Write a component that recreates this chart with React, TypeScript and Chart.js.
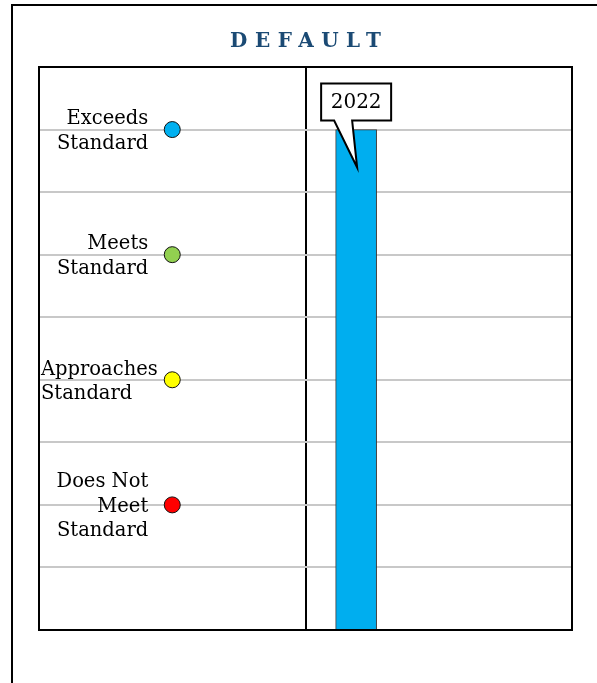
import React, { useEffect, useRef } from "react";
import { Chart, registerables } from "chart.js";

Chart.register(...registerables);

// Performance levels shown as markers in the left panel
const levelLabels: string[][] = [
  ["Exceeds", "Standard"],
  ["Meets", "Standard"],
  ["Approaches", "Standard"],
  ["Does Not", "Meet", "Standard"],
];
const levelValues = [8, 6, 4, 2];
const levelColors = ["#00b0f0", "#92d050", "#ffff00", "#ff0000"];
const levelX = 1;

// Score bars in the right panel
const years = ["2022"];
const yearScores = [8];
const yearX = [2.38];
const barColor = "#00aeef";

const yMin = 0;
const yMax = 9;
const xMin = 0;
const xMax = 4;
const panelDivider = 2;

const FONT = "'DejaVu Serif', serif";

const framePlugin = {
  id: "frame",
  afterDraw(chart: any) {
    const { ctx, chartArea } = chart;
    ctx.save();
    ctx.strokeStyle = "#000";
    ctx.lineWidth = 2;
    ctx.strokeRect(
      chartArea.left,
      chartArea.top,
      chartArea.right - chartArea.left,
      chartArea.bottom - chartArea.top
    );
    ctx.restore();
  },
};

const levelLabelPlugin = {
  id: "levelLabels",
  afterDatasetsDraw(chart: any) {
    const { ctx, chartArea } = chart;
    const meta = chart.getDatasetMeta(1);
    ctx.save();
    ctx.font = `19.5px ${FONT}`;
    ctx.fillStyle = "#000";
    ctx.textBaseline = "middle";
    const lineH = 24.5;
    meta.data.forEach((pt: any, i: number) => {
      const lines = levelLabels[i];
      const rightEdge = pt.x - 24;
      const widest = Math.max(...lines.map((l) => ctx.measureText(l).width));
      let x = rightEdge;
      let align: CanvasTextAlign = "right";
      if (rightEdge - widest < chartArea.left + 2) {
        x = chartArea.left + 2;
        align = "left";
      }
      ctx.textAlign = align;
      const startY = pt.y - ((lines.length - 1) * lineH) / 2 + 2;
      lines.forEach((l, j) => ctx.fillText(l, x, startY + j * lineH));
    });
    ctx.restore();
  },
};

const calloutPlugin = {
  id: "callout",
  afterDatasetsDraw(chart: any) {
    const { ctx } = chart;
    const meta = chart.getDatasetMeta(0);
    ctx.save();
    meta.data.forEach((bar: any, i: number) => {
      const cx = bar.x;
      const w = 70;
      const h = 37;
      const bottom = bar.y - 9;
      const top = bottom - h;
      const left = cx - w / 2;
      const right = cx + w / 2;
      ctx.beginPath();
      ctx.moveTo(left, top);
      ctx.lineTo(right, top);
      ctx.lineTo(right, bottom);
      ctx.lineTo(cx - 4, bottom);
      ctx.lineTo(cx + 1, bar.y + 38);
      ctx.lineTo(cx - 22, bottom);
      ctx.lineTo(left, bottom);
      ctx.closePath();
      ctx.fillStyle = "#fff";
      ctx.fill();
      ctx.strokeStyle = "#000";
      ctx.lineWidth = 2;
      ctx.lineJoin = "miter";
      ctx.stroke();
      ctx.font = `20px ${FONT}`;
      ctx.fillStyle = "#000";
      ctx.textAlign = "center";
      ctx.textBaseline = "middle";
      ctx.fillText(years[i], cx, (top + bottom) / 2 + 1);
    });
    ctx.restore();
  },
};

export default function App() {
  const canvasRef = useRef<HTMLCanvasElement>(null);

  useEffect(() => {
    if (!canvasRef.current) return;
    const chart = new Chart(canvasRef.current, {
      type: "bar",
      data: {
        datasets: [
          {
            type: "bar",
            label: "Score",
            data: yearScores.map((v, i) => ({ x: yearX[i], y: v })),
            backgroundColor: barColor,
            borderColor: "#3a3a3a",
            borderWidth: 1,
            barThickness: 41,
          } as any,
          {
            type: "scatter",
            label: "Levels",
            data: levelValues.map((v) => ({ x: levelX, y: v })),
            pointRadius: 8,
            pointHoverRadius: 8,
            pointBackgroundColor: levelColors,
            pointBorderColor: "#111",
            pointBorderWidth: 1,
          } as any,
        ],
      },
      options: {
        animation: false,
        responsive: false,
        events: [],
        layout: { padding: { left: 39, top: 67, right: 25, bottom: 53 } },
        plugins: {
          legend: { display: false },
          tooltip: { enabled: false },
          title: { display: false },
        },
        scales: {
          x: {
            type: "linear",
            min: xMin,
            max: xMax,
            offset: false,
            ticks: { display: false, stepSize: 1 },
            grid: {
              offset: false,
              drawTicks: false,
              lineWidth: 2,
              color: (ctx: any) =>
                ctx.tick && ctx.tick.value === panelDivider ? "#000" : "rgba(0,0,0,0)",
            },
            border: { display: false },
          },
          y: {
            min: yMin,
            max: yMax,
            ticks: { display: false, stepSize: 1 },
            grid: { drawTicks: false, lineWidth: 2, color: "#c8c8c8" },
            border: { display: false },
          },
        },
      },
      plugins: [levelLabelPlugin, calloutPlugin, framePlugin],
    });
    return () => chart.destroy();
  }, []);

  return (
    <div>
      <div
        style={{
          position: "fixed",
          left: 11,
          top: 4,
          right: -20,
          bottom: -20,
          border: "2px solid #000",
        }}
      />
      <canvas
        ref={canvasRef}
        width={597}
        height={683}
        style={{ position: "fixed", left: 0, top: 0, display: "block" }}
      />
      <div
        style={{
          position: "fixed",
          left: 0,
          top: 28,
          width: 611,
          textAlign: "center",
          fontFamily: FONT,
          fontWeight: "bold",
          fontSize: 20,
          letterSpacing: 7.5,
          paddingLeft: 7.5,
          boxSizing: "border-box",
          color: "#1b4a74",
        }}
      >
        DEFAULT
      </div>
    </div>
  );
}
